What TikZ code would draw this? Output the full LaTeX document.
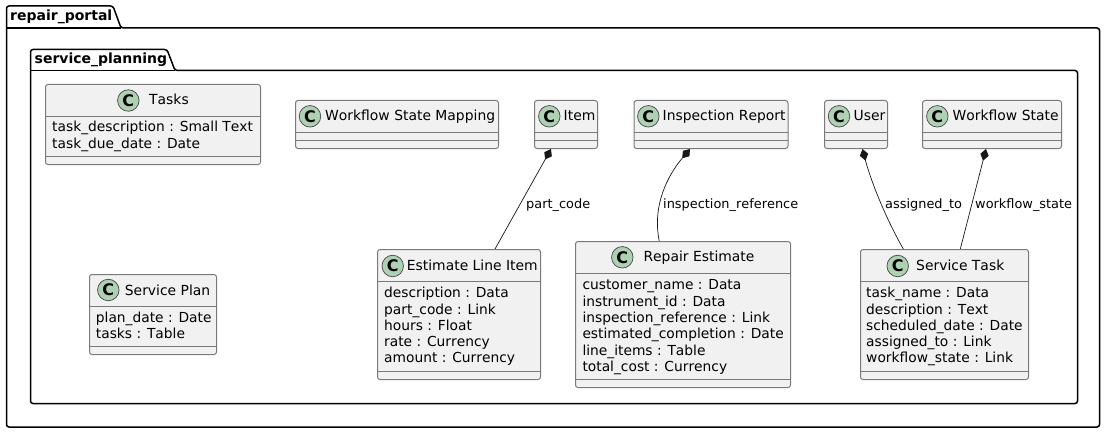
\documentclass[tikz,border=0pt]{standalone}
\usepackage{fontspec}
\setmainfont[Kerning=Off]{DejaVu Sans}
\usetikzlibrary{arrows.meta}
\definecolor{boxfill}{HTML}{F1F1F1}
\definecolor{boxline}{HTML}{7A7A7A}
\definecolor{edgeline}{HTML}{181818}
\definecolor{spotfill}{HTML}{ADD1B2}
\tikzset{
  classbox/.style={draw=boxline,fill=boxfill,line width=1pt,rounded corners=2.5pt,inner sep=0pt},
  classsep/.style={boxline,line width=1pt},
  spot/.style={circle,draw=edgeline!80,fill=spotfill,line width=0.7pt,minimum size=21.5pt,inner sep=0pt,font=\fontsize{16}{16}\selectfont\bfseries},
  classtitle/.style={anchor=base west,inner sep=0pt,font=\fontsize{13.9}{16}\selectfont},
  classfields/.style={anchor=north west,inner sep=0pt,align=left,font=\fontsize{13.8}{16.3}\selectfont,execute at begin node=\strut},
  pkgframe/.style={black,line width=1.5pt,rounded corners=2.5pt},
  pkgtitle/.style={anchor=base west,inner sep=0pt,font=\fontsize{14}{16}\selectfont\bfseries},
  edgelabel/.style={anchor=base west,inner sep=0pt,font=\fontsize{12.9}{15}\selectfont},
  composition/.style={{Diamond[length=12pt,width=8.5pt]}-,edgeline,line width=0.7pt}
}
\begin{document}
\begin{tikzpicture}[x=1pt,y=-1pt]
  \useasboundingbox (0,0) rectangle (1107,433);
  % packages
  \draw [pkgframe] (6.5,28) -- (6.5,6) -- (113,6) -- (121,28) -- (1099.5,28) -- (1099.5,427) -- (6.5,427) -- cycle;
  \draw [pkgframe] (6.5,28) -- (121,28);
  \node [pkgtitle] (repairportal) at (10,21) {repair\_portal};
  \draw [pkgframe] (30.5,70.5) -- (30.5,49.5) -- (167,49.5) -- (175,70.5) -- (1077.5,70.5) -- (1077.5,403.5) -- (30.5,403.5) -- cycle;
  \draw [pkgframe] (30.5,70.5) -- (175,70.5);
  \node [pkgtitle] (serviceplanning) at (34.5,64) {service\_planning};

  % Tasks
  \node [classbox,minimum width=215pt,minimum height=80pt] (tasks) at (153,124.5) {};
  \draw [classsep] (45.5,116.5) -- (260.5,116.5);
  \draw [classsep] (45.5,156.5) -- (260.5,156.5);
  \node [spot] (tasksspot) at (128.3,100.5) {C};
  \node [classtitle] (taskstitle) at (149,105) {Tasks};
  \node [classfields] (tasksfields) at (52,121.3) {task\_description : Small Text\\task\_due\_date : Date};

  % Service Plan
  \node [classbox,minimum width=127pt,minimum height=80pt] (serviceplan) at (153,314.5) {};
  \draw [classsep] (89.5,306.5) -- (216.5,306.5);
  \draw [classsep] (89.5,346.5) -- (216.5,346.5);
  \node [spot] (serviceplanspot) at (108.3,290) {C};
  \node [classtitle] (serviceplantitle) at (124.7,295) {Service Plan};
  \node [classfields] (serviceplanfields) at (95.7,311.8) {plan\_date : Date\\tasks : Table};

  % Workflow State Mapping
  \node [classbox,minimum width=203pt,minimum height=48pt] (mapping) at (397,124.5) {};
  \draw [classsep] (295.5,132.5) -- (498.5,132.5);
  \draw [classsep] (295.5,140.5) -- (498.5,140.5);
  \node [spot] (mappingspot) at (310,116.3) {C};
  \node [classtitle] (mappingtitle) at (325,121) {Workflow State Mapping};

  % Item
  \node [classbox,minimum width=63pt,minimum height=48pt] (item) at (566,124.5) {};
  \draw [classsep] (534.5,132.5) -- (597.5,132.5);
  \draw [classsep] (534.5,140.5) -- (597.5,140.5);
  \node [spot] (itemspot) at (549.3,116.3) {C};
  \node [classtitle] (itemtitle) at (563.5,121) {Item};

  % Inspection Report
  \node [classbox,minimum width=154pt,minimum height=48pt] (inspection) at (711,124.5) {};
  \draw [classsep] (634,132.5) -- (788,132.5);
  \draw [classsep] (634,140.5) -- (788,140.5);
  \node [spot] (inspectionspot) at (648.3,116.3) {C};
  \node [classtitle] (inspectiontitle) at (662.5,121) {Inspection Report};

  % User
  \node [classbox,minimum width=63pt,minimum height=48pt] (user) at (856,124.5) {};
  \draw [classsep] (824.5,132.5) -- (887.5,132.5);
  \draw [classsep] (824.5,140.5) -- (887.5,140.5);
  \node [spot] (userspot) at (839,116.3) {C};
  \node [classtitle] (usertitle) at (853.5,121) {User};

  % Workflow State
  \node [classbox,minimum width=139pt,minimum height=48pt] (workflow) at (992,124.5) {};
  \draw [classsep] (922.5,132.5) -- (1061.5,132.5);
  \draw [classsep] (922.5,140.5) -- (1061.5,140.5);
  \node [spot] (workflowspot) at (937.3,116.3) {C};
  \node [classtitle] (workflowtitle) at (952.5,121) {Workflow State};

  % Estimate Line Item
  \node [classbox,minimum width=163pt,minimum height=130pt] (lineitem) at (459,314.5) {};
  \draw [classsep] (377.5,281.5) -- (540.5,281.5);
  \draw [classsep] (377.5,371.5) -- (540.5,371.5);
  \node [spot] (lineitemspot) at (392.7,266) {C};
  \node [classtitle] (lineitemtitle) at (406.7,270.7) {Estimate Line Item};
  \node [classfields] (lineitemfields) at (384,287.1) {description : Data\\part\_code : Link\\hours : Float\\rate : Currency\\amount : Currency};

  % Repair Estimate
  \node [classbox,minimum width=215pt,minimum height=146pt] (estimate) at (683,314.5) {};
  \draw [classsep] (575.5,273.5) -- (790.5,273.5);
  \draw [classsep] (575.5,379.5) -- (790.5,379.5);
  \node [spot] (estimatespot) at (622.3,257.3) {C};
  \node [classtitle] (estimatetitle) at (643.3,261.7) {Repair Estimate};
  \node [classfields] (estimatefields) at (582.3,279.6) {customer\_name : Data\\instrument\_id : Data\\inspection\_reference : Link\\estimated\_completion : Date\\line\_items : Table\\total\_cost : Currency};

  % Service Task
  \node [classbox,minimum width=168pt,minimum height=130pt] (servicetask) at (944.5,314.5) {};
  \draw [classsep] (860.5,281.5) -- (1028.5,281.5);
  \draw [classsep] (860.5,371.5) -- (1028.5,371.5);
  \node [spot] (servicetaskspot) at (897.7,266) {C};
  \node [classtitle] (servicetasktitle) at (916,270.7) {Service Task};
  \node [classfields] (servicetaskfields) at (866,287.1) {task\_name : Data\\description : Text\\scheduled\_date : Date\\assigned\_to : Link\\workflow\_state : Link};

  % associations
  \draw [composition] ([xshift=-15pt]item.south) -- ([xshift=36pt]lineitem.north);
  \draw [composition] ([xshift=-21pt]inspection.south) .. controls (668,175) and (652,205) .. ([xshift=-23.8pt]estimate.north);
  \draw [composition] ([xshift=6.5pt]user.south) .. controls (870,178) and (884,215) .. ([xshift=-41.2pt]servicetask.north);
  \draw [composition] ([xshift=-6pt]workflow.south) -- ([xshift=15.8pt]servicetask.north);
  \node [edgelabel] (partcode) at (526,208) {part\_code};
  \node [edgelabel] (inspref) at (663,208) {inspection\_reference};
  \node [edgelabel] (assignedto) at (885,208) {assigned\_to};
  \node [edgelabel] (workflowstate) at (975,208) {workflow\_state};
\end{tikzpicture}
\end{document}
